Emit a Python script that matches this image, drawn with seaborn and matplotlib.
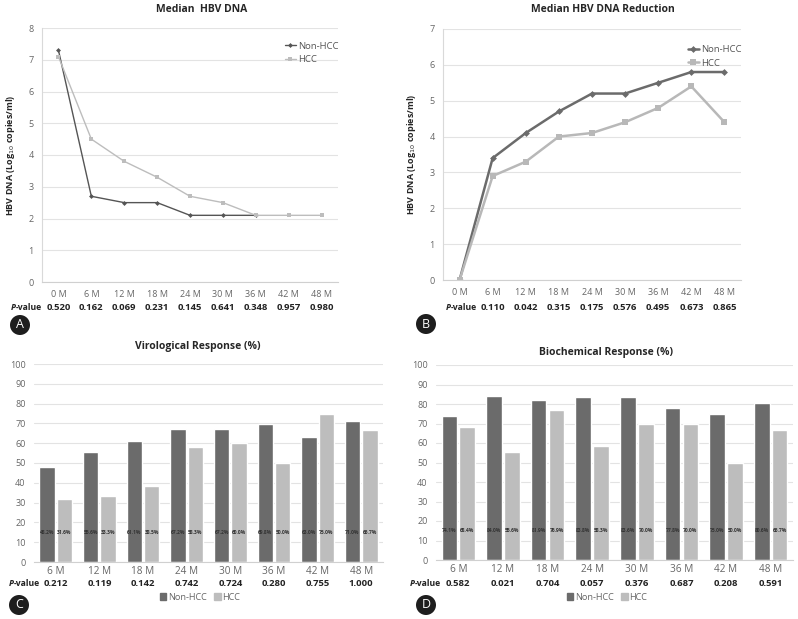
import numpy as np
import pandas as pd
import matplotlib
matplotlib.use("Agg")
import matplotlib.pyplot as plt
import matplotlib.transforms as mtransforms
import seaborn as sns

# data
months_line = [0, 6, 12, 18, 24, 30, 36, 42, 48]
dna_non_hcc = [7.3, 2.7, 2.5, 2.5, 2.1, 2.1, 2.1, np.nan, np.nan]
dna_hcc = [7.1, 4.5, 3.8, 3.3, 2.7, 2.5, 2.1, 2.1, 2.1]
p_dna = ["0.520", "0.162", "0.069", "0.231", "0.145", "0.641", "0.348", "0.957", "0.980"]

red_non_hcc = [0, 3.4, 4.1, 4.7, 5.2, 5.2, 5.5, 5.8, 5.8]
red_hcc = [0, 2.9, 3.3, 4.0, 4.1, 4.4, 4.8, 5.4, 4.4]
p_red = ["", "0.110", "0.042", "0.315", "0.175", "0.576", "0.495", "0.673", "0.865"]

months_bar = ["6 M", "12 M", "18 M", "24 M", "30 M", "36 M", "42 M", "48 M"]
viro_non_hcc = [48.2, 55.6, 61.1, 67.2, 67.2, 69.8, 63.0, 71.0]
viro_hcc = [31.6, 33.3, 38.5, 58.3, 60.0, 50.0, 75.0, 66.7]
p_viro = ["0.212", "0.119", "0.142", "0.742", "0.724", "0.280", "0.755", "1.000"]

bio_non_hcc = [74.1, 84.0, 81.9, 83.8, 83.6, 77.8, 75.0, 80.6]
bio_hcc = [68.4, 55.6, 76.9, 58.3, 70.0, 70.0, 50.0, 66.7]
p_bio = ["0.582", "0.021", "0.704", "0.057", "0.376", "0.687", "0.208", "0.591"]

sns.set_style("white")
plt.rcParams["font.family"] = ["Open Sans", "DejaVu Sans"]

W, H = 798, 619
fig = plt.figure(figsize=(W / 100, H / 100), dpi=100)

DARK = "#6b6b6b"
LIGHT = "#bdbdbd"
TICK = "#666666"


def px_axes(l, t, r, b):
    return fig.add_axes([l / W, 1 - b / H, (r - l) / W, (b - t) / H])


def style_axes(ax, left_spine=True):
    ax.grid(axis="y", color="#e3e3e3", lw=0.8)
    ax.set_axisbelow(True)
    for s in ["top", "right"]:
        ax.spines[s].set_visible(False)
    ax.spines["left"].set_visible(left_spine)
    ax.spines["left"].set_color("#d9d9d9")
    ax.spines["bottom"].set_color("#d0d0d0")
    ax.tick_params(axis="both", length=0, labelsize=6.5, colors=TICK, pad=6)
    ax.set_xlabel("")
    ax.set_ylabel("")


def pvalue_row(ax, xs, vals, y_px, px_label):
    trans = mtransforms.blended_transform_factory(ax.transData, fig.transFigure)
    for x, v in zip(xs, vals):
        ax.text(x, 1 - y_px / H, v, transform=trans, ha="center", va="center",
                fontsize=6.8, fontweight="bold", color="#222222")
    fig.text(px_label / W, 1 - y_px / H, "P", ha="right", va="center",
             fontsize=6.2, fontweight="bold", style="italic", color="#222222")
    fig.text(px_label / W, 1 - y_px / H, "-value", ha="left", va="center",
             fontsize=6.2, fontweight="bold", color="#222222")


def badge(x, y, letter):
    fig.text(x / W, 1 - y / H, letter, ha="center", va="center", color="white",
             fontsize=9, bbox=dict(boxstyle="circle,pad=0.28", fc="#1e1e1e", ec="none"))


# ---- A: median HBV DNA
ax = px_axes(42, 28, 338, 282)
sns.lineplot(x=months_line, y=dna_non_hcc, color="#555555", lw=1, marker="D",
             markersize=2.5, markeredgewidth=0, label="Non-HCC", ax=ax)
sns.lineplot(x=months_line, y=dna_hcc, color=LIGHT, lw=1, marker="s",
             markersize=3.5, markeredgewidth=0, label="HCC", ax=ax)
ax.set_xlim(-3, 51)
ax.set_ylim(0, 8)
ax.set_xticks(months_line, [f"{m} M" for m in months_line])
style_axes(ax)
ax.set_ylabel("HBV DNA (Log$_{10}$ copies/ml)", fontsize=6.5, fontweight="bold", labelpad=8)
ax.legend(loc="upper right", bbox_to_anchor=(1.03, 0.98), frameon=False, fontsize=6.8,
          handlelength=1.2, handletextpad=0.2, labelspacing=0.5, labelcolor="#555555")
fig.text(202 / W, 1 - 10 / H, "Median  HBV DNA", ha="center", va="center",
         fontsize=7.5, fontweight="bold")
pvalue_row(ax, months_line, p_dna, 308, 16)
badge(20, 325, "A")

# ---- B: median HBV DNA reduction
ax = px_axes(443, 29, 741, 280)
sns.lineplot(x=months_line, y=red_non_hcc, color=DARK, lw=1.8, marker="D",
             markersize=3.5, markeredgewidth=0, label="Non-HCC", ax=ax)
sns.lineplot(x=months_line, y=red_hcc, color="#b8b8b8", lw=1.8, marker="s",
             markersize=5, markeredgewidth=0, label="HCC", ax=ax)
ax.set_xlim(-3, 51)
ax.set_ylim(0, 7)
ax.set_xticks(months_line, [f"{m} M" for m in months_line])
style_axes(ax)
ax.set_ylabel("HBV DNA (Log$_{10}$ copies/ml)", fontsize=6.5, fontweight="bold", labelpad=8)
ax.legend(loc="upper right", bbox_to_anchor=(1.03, 0.97), frameon=False, fontsize=6.8,
          handlelength=1.2, handletextpad=0.2, labelspacing=0.5, labelcolor="#555555")
fig.text(603 / W, 1 - 10 / H, "Median HBV DNA Reduction", ha="center", va="center",
         fontsize=7.5, fontweight="bold")
pvalue_row(ax, months_line, p_red, 308, 451)
badge(426, 324, "B")


# ---- C / D: bar panels
def bar_panel(l, t, r, b, non_hcc, hcc, pvals, title, tx, ty, leg_x, leg_y, p_y, p_lx):
    ax = px_axes(l, t, r, b)
    df = pd.DataFrame({
        "month": months_bar * 2,
        "value": non_hcc + hcc,
        "group": ["Non-HCC"] * len(months_bar) + ["HCC"] * len(months_bar),
    })
    sns.barplot(data=df, x="month", y="value", hue="group",
                palette={"Non-HCC": DARK, "HCC": LIGHT}, width=0.8, gap=0.12,
                saturation=1, ax=ax)
    ax.set_ylim(0, 100)
    ax.set_yticks(range(0, 101, 10))
    style_axes(ax, left_spine=False)
    ax.tick_params(axis="x", labelsize=7.2, pad=3)
    for cont in ax.containers:
        for patch, v in zip(cont.patches, cont.datavalues):
            ax.text(patch.get_x() + patch.get_width() / 2, 15, f"{v:.1f}%",
                    ha="center", va="center", fontsize=3.6, fontweight="bold",
                    color="#333333")
    ax.get_legend().remove()
    handles = [plt.Rectangle((0, 0), 1, 1, color=DARK), plt.Rectangle((0, 0), 1, 1, color=LIGHT)]
    fig.legend(handles, ["Non-HCC", "HCC"], loc="center", bbox_to_anchor=(leg_x / W, 1 - leg_y / H),
               ncol=2, frameon=False, fontsize=6.6, handlelength=0.7, handleheight=0.7,
               handletextpad=0.2, columnspacing=0.8, labelcolor="#666666",
               borderpad=0.1)
    fig.text(tx / W, 1 - ty / H, title, ha="center", va="center", fontsize=7.5, fontweight="bold")
    pvalue_row(ax, range(len(months_bar)), pvals, p_y, p_lx)
    return ax


bar_panel(34, 364, 383, 562, viro_non_hcc, viro_hcc, p_viro, "Virological Response (%)",
          198, 347, 200, 597, 583, 14)
badge(19, 605, "C")

bar_panel(436, 365, 793, 560, bio_non_hcc, bio_hcc, p_bio, "Biochemical Response (%)",
          606, 352, 607, 597, 583, 415)
badge(426, 605, "D")

fig.savefig("out.png", dpi=100)
